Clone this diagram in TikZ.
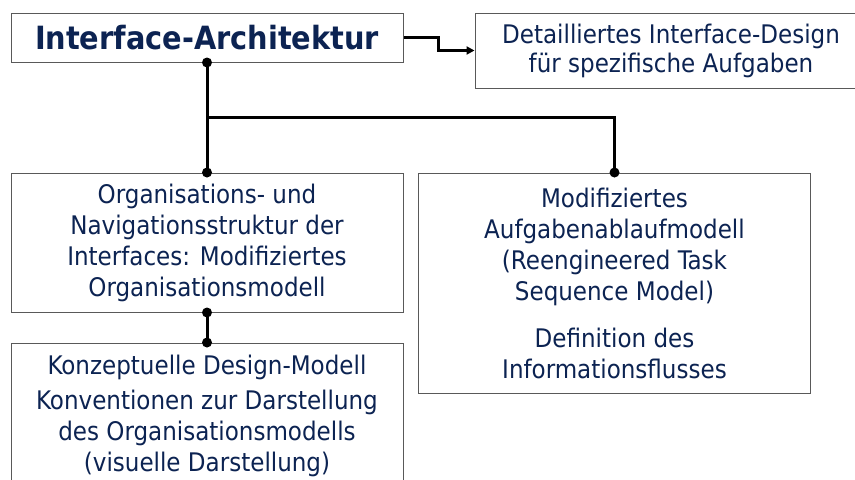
\documentclass[tikz,border=0pt]{standalone}
\usepackage{fontspec}
\setmainfont{DejaVu Sans Condensed}
\usetikzlibrary{arrows.meta}
\definecolor{navy}{RGB}{12,35,82}
\tikzset{
	box/.style={draw=black!65, line width=0.75pt, fill=white, text=navy, align=center,
		minimum width=294pt, inner sep=0pt, font=\fontsize{19.2}{23.25}\selectfont},
	link/.style={line width=2.25pt, black},
	pointer/.style={line width=1.75pt, black, -{Triangle[length=6pt,width=6pt]}},
	dot/.style={circle, fill=black, inner sep=0pt, minimum size=7.5pt}
}
\begin{document}
\begin{tikzpicture}[x=0.75pt,y=-0.75pt]
		\clip (0,0) rectangle (855,479);
		\fill[white] (0,0) rectangle (855,479);
		% boxes
		\node[box, minimum height=49*0.75pt, font=\bfseries\fontsize{24}{28}\selectfont] (arch) at (207,37.5) {Interface-Architektur};
		\node[box, minimum height=75*0.75pt, font=\fontsize{19.2}{21.75}\selectfont] (detail) at (671,50.5) {Detailliertes Interface-Design\\für spezifische Aufgaben};
		\node[box, minimum height=139*0.75pt] (orga) at (207,242.5) {Organisations- und\\Navigationsstruktur der\\Interfaces: Modifiziertes\\Organisationsmodell};
		\node[box, minimum height=220*0.75pt] (task) at (614.5,283) {Modifiziertes\\Aufgabenablaufmodell\\(Reengineered Task\\Sequence Model)\\[12pt]Definition des\\Informationsflusses};
		\node[box, minimum height=146*0.75pt] (konz) at (207,416) {Konzeptuelle Design-Modell\\[3pt]Konventionen zur Darstellung\\des Organisationsmodells\\(visuelle Darstellung)};
		% connectors
		\coordinate (split) at (arch.south |- 0,117);
		\draw[pointer] (arch.east) -- ++(35,0) |- (detail.west);
		\draw[link] (arch.south) -- (orga.north);
		\draw[link] (split) -| (task.north);
		\draw[link] (orga.south) -- (konz.north);
		\foreach \p [count=\i] in {arch.south, orga.north, task.north, orga.south, konz.north}
			\node[dot] (dot\i) at (\p) {};
\end{tikzpicture}
\end{document}
